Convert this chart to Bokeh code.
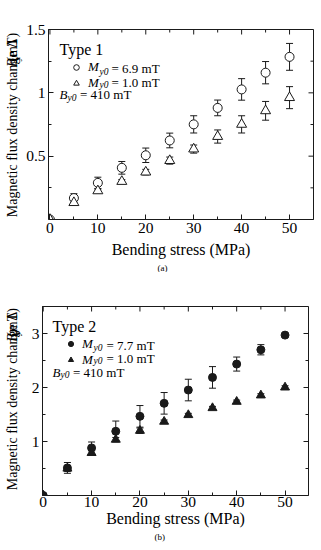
import math
from bokeh.plotting import figure
from bokeh.models import (ColumnDataSource, Whisker, TeeHead, FixedTicker,
                          Label, Legend, LegendItem, NumeralTickFormatter, Range1d, Title)
from bokeh.core.properties import value
from bokeh.layouts import column, row
from bokeh.embed import file_html
from bokeh.resources import INLINE

# ---------------- data ----------------
stress = [0, 5, 10, 15, 20, 25, 30, 35, 40, 45, 50]
x_major = [0, 10, 20, 30, 40, 50]
x_minor = [5, 15, 25, 35, 45]

# Type 1
t1_my69 = [0, 0.169, 0.289, 0.408, 0.507, 0.624, 0.751, 0.881, 1.027, 1.159, 1.284]
t1_my69_err = [0, 0.035, 0.045, 0.05, 0.057, 0.058, 0.068, 0.062, 0.085, 0.088, 0.106]
t1_my10 = [0, 0.133, 0.226, 0.300, 0.374, 0.465, 0.556, 0.655, 0.751, 0.858, 0.962]
t1_my10_err = [0, 0.015, 0.015, 0.015, 0.022, 0.028, 0.032, 0.052, 0.068, 0.074, 0.087]
t1_y_major = [0.5, 1.0, 1.5]
t1_y_minor = [0.25, 0.75, 1.25]

# Type 2
t2_my77 = [0, 0.511, 0.881, 1.189, 1.466, 1.707, 1.953, 2.187, 2.434, 2.699, 2.970]
t2_my77_err = [0, 0.10, 0.11, 0.19, 0.20, 0.20, 0.20, 0.20, 0.13, 0.095, 0.03]
t2_my10 = [0, 0.50, 0.789, 1.035, 1.200, 1.368, 1.491, 1.620, 1.737, 1.855, 2.002]
t2_my10_err = [0, 0.05, 0.04, 0.04, 0.05, 0.03, 0.03, 0.03, 0.03, 0.03, 0.03]
t2_y_major = [1, 2, 3]
t2_y_minor = [0.5, 1.5, 2.5, 3.5]

x_label = "Bending stress (MPa)"
y_label_parts = ["Magnetic flux density change \u0394", "B", "y", " (mT)"]

SERIF = "Liberation Serif"
INK = "#1a1a1a"
YLAB_W = 23


def err_source(xs, ys, es):
    keep = [i for i in range(len(xs)) if es[i] > 0]
    return ColumnDataSource(dict(
        x=[xs[i] for i in keep],
        upper=[ys[i] + es[i] for i in keep],
        lower=[ys[i] - es[i] for i in keep]))


def style_axis(ax, standoff=3):
    ax.axis_line_color = INK
    ax.axis_line_width = 1
    ax.major_tick_line_color = INK
    ax.minor_tick_line_color = INK
    ax.major_tick_in = 5
    ax.major_tick_out = 0
    ax.minor_tick_in = 3
    ax.minor_tick_out = 0
    ax.major_label_text_font = SERIF
    ax.major_label_text_font_size = "15.5px"
    ax.major_label_text_color = "black"
    ax.major_label_standoff = standoff


def label(p, text, dx, dy, size, style="normal"):
    # dx: pixels right of the frame's left edge ; dy: pixels down from the frame's top
    p.add_layout(Label(x=p.x_range.start, y=p.y_range.end, x_offset=dx, y_offset=-dy,
                       text=text, text_font=SERIF, text_font_size=size,
                       text_font_style=style, text_color="black",
                       text_align="left", text_baseline="alphabetic"))


def mirror_ticks(p, y_major, y_minor):
    """Inward ticks on the top and right edges (half of each dash is clipped by the frame)."""
    xe, ye = p.x_range.end, p.y_range.end
    p.scatter(x=x_major, y=[ye] * len(x_major), marker="dash", size=10, angle=math.pi / 2,
              line_color=INK, line_width=1)
    p.scatter(x=x_minor, y=[ye] * len(x_minor), marker="dash", size=6, angle=math.pi / 2,
              line_color=INK, line_width=1)
    p.scatter(x=[xe] * len(y_major), y=y_major, marker="dash", size=10,
              line_color=INK, line_width=1)
    p.scatter(x=[xe] * len(y_minor), y=y_minor, marker="dash", size=6,
              line_color=INK, line_width=1)


def make_fig(width, height, borders, xr, yr, y_major, y_minor, tag, tag_offset,
             xl_standoff, xt_standoff):
    left, right, top, bottom = borders
    p = figure(width=width, height=height, x_range=Range1d(*xr), y_range=Range1d(*yr),
               output_backend="svg", toolbar_location=None,
               min_border_left=left, min_border_right=right,
               min_border_top=top, min_border_bottom=bottom)
    p.grid.visible = False
    p.outline_line_color = INK
    p.outline_line_width = 1
    p.background_fill_color = "white"
    p.border_fill_color = "white"

    p.xaxis[0].ticker = FixedTicker(ticks=x_major, minor_ticks=x_minor)
    p.yaxis[0].ticker = FixedTicker(ticks=y_major, minor_ticks=y_minor)
    p.yaxis[0].formatter = NumeralTickFormatter(format="0.[0]")
    p.xaxis[0].axis_label = x_label
    p.xaxis[0].axis_label_text_font = SERIF
    p.xaxis[0].axis_label_text_font_size = "16px"
    p.xaxis[0].axis_label_text_font_style = "normal"
    p.xaxis[0].axis_label_text_color = "black"
    p.xaxis[0].axis_label_standoff = xl_standoff
    style_axis(p.xaxis[0], xt_standoff)
    style_axis(p.yaxis[0])
    mirror_ticks(p, y_major, y_minor)

    p.add_layout(Title(text=tag, align="left", offset=tag_offset, text_font=SERIF,
                       text_font_size="9px", text_font_style="normal",
                       text_color="black", standoff=0), "below")
    return p


def add_series(p, ys, es, marker, fill, size):
    src = ColumnDataSource(dict(x=stress, y=ys))
    w = Whisker(source=err_source(stress, ys, es), base="x", upper="upper", lower="lower",
                line_color=INK, line_width=1,
                upper_head=TeeHead(size=7, line_color=INK, line_width=1),
                lower_head=TeeHead(size=7, line_color=INK, line_width=1),
                level="underlay")
    p.add_layout(w)
    r = p.scatter("x", "y", source=src, marker=marker, size=size,
                  fill_color=fill, line_color=INK, line_width=1)
    return r


def add_legend(p, renderers, loc, rowh, standoff):
    items = [LegendItem(label=value("M"), renderers=[r]) for r in renderers]
    lg = Legend(items=items, location=loc, orientation="vertical", padding=0, margin=0,
                spacing=0, glyph_width=rowh, glyph_height=rowh, label_height=rowh,
                label_width=8, label_standoff=standoff,
                label_text_font=SERIF, label_text_font_size="13px",
                label_text_font_style="italic", label_text_color="black",
                border_line_color=None, background_fill_alpha=0)
    p.add_layout(lg)


def ylabel_fig(height, start_px, size=14.0):
    """A narrow strip left of the plot that carries the rotated y-axis title.
    Each piece is centred on its anchor so the rotation cannot shift it."""
    f = figure(width=YLAB_W, height=height, x_range=Range1d(0, YLAB_W),
               y_range=Range1d(0, height), output_backend="svg", toolbar_location=None,
               x_axis_location=None, y_axis_location=None, min_border=0,
               min_border_left=0, min_border_right=0, min_border_top=0, min_border_bottom=0)
    f.grid.visible = False
    f.outline_line_color = None
    f.border_fill_color = "white"
    f.background_fill_color = "white"
    sub = size * 0.7
    widths = [12.721 * size, 0.611 * size, 0.444 * sub, 2.305 * size]
    base_x = 16.5
    xs = [base_x - 0.34 * size, base_x - 0.34 * size,
          base_x + 3 - 0.34 * sub, base_x - 0.34 * size]
    sizes = [f"{size}px", f"{size}px", f"{sub:.1f}px", f"{size}px"]
    styles = ["normal", "italic", "italic", "normal"]
    pos = height - start_px
    for i in range(4):
        c = pos + widths[i] / 2
        pos += widths[i]
        f.add_layout(Label(x=xs[i], y=c, text=y_label_parts[i], angle=math.pi / 2,
                           text_font=SERIF, text_font_size=sizes[i],
                           text_font_style=styles[i], text_color="black",
                           text_align="center", text_baseline="middle"))
    return f


# ---------------- figure (a) ----------------
H1 = 272
p1 = make_fig(321 - YLAB_W, H1, (22, 8, 29, 53), (-0.3, 55.0), (0, 1.5),
              t1_y_major, t1_y_minor, "(a)", 109, 5, 3)
r11 = add_series(p1, t1_my69, t1_my69_err, "circle", "white", 9)
r12 = add_series(p1, t1_my10, t1_my10_err, "triangle", "white", 10)
add_legend(p1, [r11, r12], (21, 128), 14, 5)
label(p1, "Type 1", 11, 20, "16px")
label(p1, "y0", 51, 42.5, "9.5px", style="italic")
label(p1, "= 6.9 mT", 63, 39.3, "13px")
label(p1, "y0", 51, 55.9, "9.5px", style="italic")
label(p1, "= 1.0 mT", 63, 52.7, "13px")
label(p1, "B", 11, 65, "13px", style="italic")
label(p1, "y0", 19, 68.2, "9.5px", style="italic")
label(p1, "= 410 mT", 31.5, 65, "13px")
y1 = ylabel_fig(H1, 230)

# ---------------- figure (b) ----------------
H2 = 278
p2 = make_fig(321 - YLAB_W, H2, (19, 13, 34, 55), (-0.15, 54.85), (0, 3.5),
              t2_y_major, t2_y_minor, "(b)", 112, 0, 1)
r21 = add_series(p2, t2_my77, t2_my77_err, "circle", INK, 8)
r22 = add_series(p2, t2_my10, t2_my10_err, "triangle", INK, 9)
add_legend(p2, [r21, r22], (22, 127.5), 13, 5)
label(p2, "Type 2", 10, 20, "16px")
label(p2, "y0", 51, 41.8, "9.5px", style="italic")
label(p2, "= 7.7 mT", 64, 38.6, "13px")
label(p2, "y0", 51, 54.8, "9.5px", style="italic")
label(p2, "= 1.0 mT", 64, 51.6, "13px")
label(p2, "B", 10, 65.7, "13px", style="italic")
label(p2, "y0", 18, 68.9, "9.5px", style="italic")
label(p2, "= 410 mT", 30.5, 65.7, "13px")
y2 = ylabel_fig(H2, 228)

layout = column(row(y1, p1, spacing=0), row(y2, p2, spacing=0), spacing=0)
open("out.html", "w").write(file_html(layout, INLINE))
